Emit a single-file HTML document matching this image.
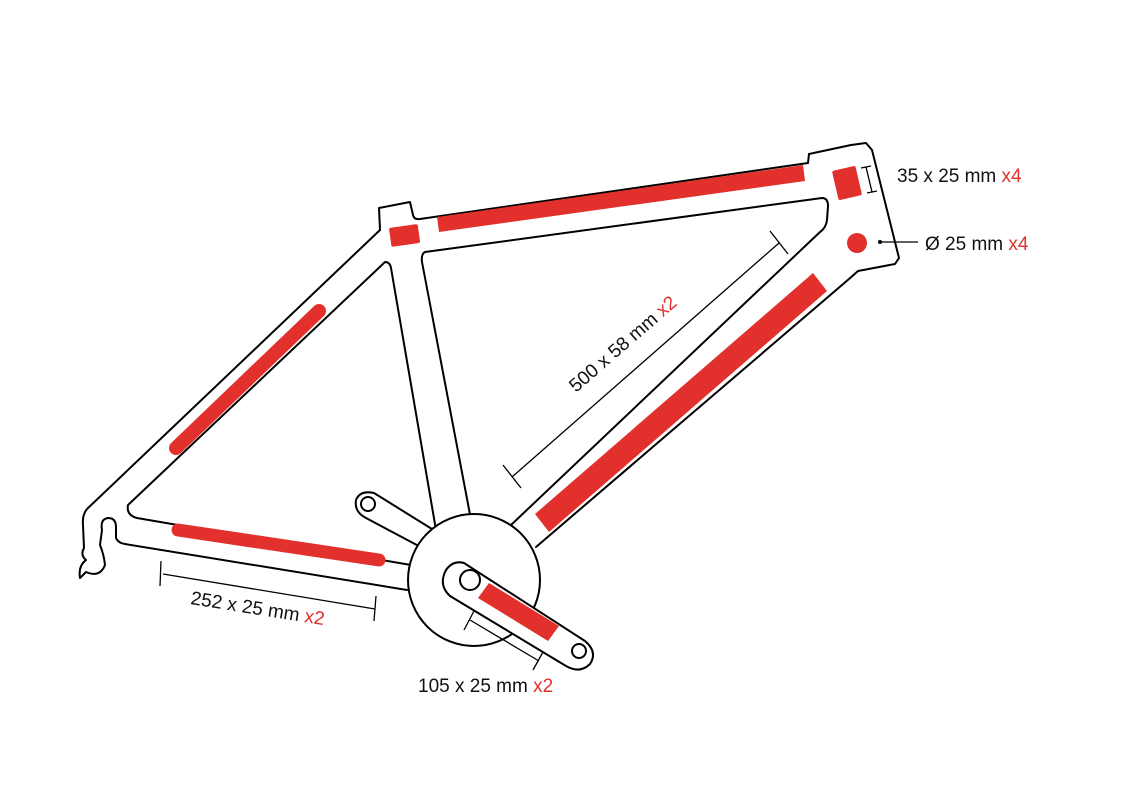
<!DOCTYPE html>
<html><head><meta charset="utf-8"><style>
html,body{margin:0;padding:0;background:#fff;}
svg{display:block}
text{font-family:"Liberation Sans",sans-serif;font-size:19px;fill:#111}
.r{fill:#e2302c}
</style></head><body>
<svg width="1132" height="800" viewBox="0 0 1132 800" xmlns="http://www.w3.org/2000/svg">
<g fill="none" stroke="#000" stroke-width="2" stroke-linejoin="round" stroke-linecap="round">
<path d="M380,230 L379,208 L410,202 L413,215 Q414,220 420,219 L808,163 L809,154 L851,145 L866,143 L872,150 L899,258 L895,264 L858,271 L849,279 L536,547"/>
<path d="M380,230 L87,509 Q82,515 83,525 L84,548 Q80,555 86,560 Q78,566 80,578 L86,572 Q100,578 105,565 Q104,555 100,545 L102,530 Q100,519 108,518 Q116,518 116,527 L116,538 Q118,543 125,544 L407,590"/>
<path d="M385,262 Q390,262 391,268 L436,530 L411,565 L137,518 Q126,515 128,505 Z"/>
<path d="M425,252 L822,198 Q828,198 828,206 L827,220 Q826,228 820,232 L511,525 L472,525 L422,262 Q421,254 425,252 Z"/>
<path d="M440,534 L374,493 Q360,490 356,500 Q354,512 366,518 L430,552" fill="#fff"/>
<circle cx="368" cy="504" r="7"/>
<circle cx="474" cy="580" r="66" fill="#fff"/>
<path d="M464,563 L585,641 Q598,652 590,664 Q580,674 566,666 L450,596 Q438,585 446,570 Q453,560 464,563 Z" fill="#fff"/>
<circle cx="470" cy="580" r="10"/>
<circle cx="579" cy="651" r="7"/>
</g>
<g class="r">
<polygon points="437,217 803,165 805,181 439,232"/>
<rect x="390" y="226" width="29" height="19" rx="2" transform="rotate(-8 404 235)"/>
<rect x="835" y="168" width="24" height="30" rx="2" transform="rotate(-13 847 183)"/>
<circle cx="857" cy="243" r="10"/>
<polygon points="535,514 813,273 827,291 549,532"/>
<line x1="176" y1="448" x2="319" y2="311" stroke="#e2302c" stroke-width="14" stroke-linecap="round"/>
<line x1="178" y1="530" x2="379" y2="560" stroke="#e2302c" stroke-width="13" stroke-linecap="round"/>
<polygon points="489,583 559,626 548,641 478,598"/>
</g>
<g stroke="#000" stroke-width="1.3" fill="none">
<line x1="512" y1="477" x2="779" y2="243"/>
<line x1="503" y1="465" x2="521" y2="488"/>
<line x1="770" y1="231" x2="788" y2="254"/>
<line x1="163" y1="574" x2="375" y2="609"/>
<line x1="161" y1="561" x2="160" y2="586"/>
<line x1="376" y1="596" x2="374" y2="621"/>
<line x1="470" y1="620" x2="539" y2="661"/>
<line x1="464" y1="630" x2="474" y2="611"/>
<line x1="533" y1="670" x2="543" y2="652"/>
<line x1="866" y1="167" x2="872" y2="192"/>
<line x1="861" y1="168" x2="871" y2="166"/>
<line x1="867" y1="193" x2="877" y2="191"/>
<line x1="880" y1="242" x2="918" y2="242"/>
</g>
<circle cx="880" cy="242" r="2" fill="#000"/>
<text x="897" y="182">35 x 25 mm <tspan fill="#e2302c">x4</tspan></text>
<text x="925" y="250">Ø 25 mm <tspan fill="#e2302c">x4</tspan></text>
<text transform="translate(576,393) rotate(-41)">500 x 58 mm <tspan fill="#e2302c">x2</tspan></text>
<text transform="translate(190,604) rotate(9)">252 x 25 mm <tspan fill="#e2302c">x2</tspan></text>
<text x="418" y="692">105 x 25 mm <tspan fill="#e2302c">x2</tspan></text>
</svg>
</body></html>
